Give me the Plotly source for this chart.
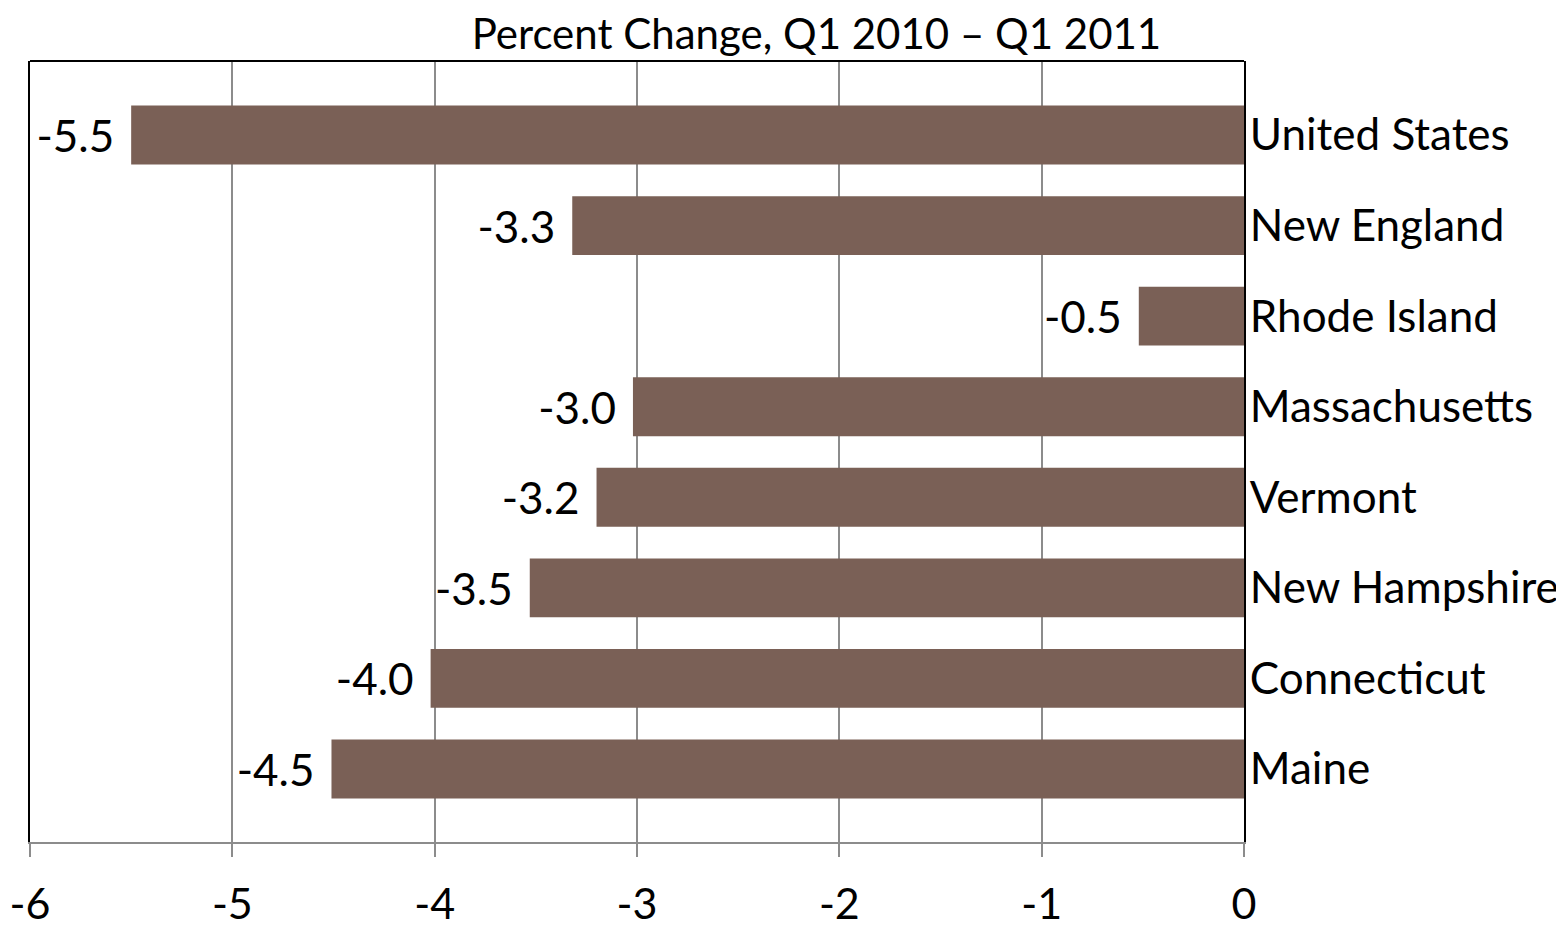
import plotly.graph_objects as go

categories = ["Maine", "Connecticut", "New Hampshire", "Vermont", "Massachusetts",
              "Rhode Island", "New England", "United States"]
values = [-4.51, -4.02, -3.53, -3.2, -3.02, -0.52, -3.32, -5.5]
x_ticks = [-6, -5, -4, -3, -2, -1, 0]
title_text = "Percent Change, Q1 2010 \u2013 Q1 2011"

FONT = "Lato"

fig = go.Figure(go.Bar(
    y=categories, x=values, orientation="h",
    marker=dict(color="#7A6056", line=dict(width=0)),
    width=0.65,
    text=[f"{v:.1f}\u00a0\u200a" for v in values],
    textposition="outside",
    textfont=dict(family=FONT, size=44, color="black"),
    cliponaxis=False,
))

fig.update_layout(
    width=1556, height=919,
    paper_bgcolor="white", plot_bgcolor="white",
    margin=dict(l=22, r=320, t=53, b=85),
    showlegend=False,
    title=dict(text=title_text, x=0.5196, xanchor="center", y=0.9717, yanchor="middle",
               yref="container", font=dict(family=FONT, size=42, color="black")),
    xaxis=dict(range=[-6, 0], tickvals=x_ticks, ticktext=[str(t) for t in x_ticks],
               automargin=False,
               showgrid=True, gridcolor="#8c8c8c", gridwidth=1.5,
               zeroline=False, showline=True, linecolor="#8c8c8c", linewidth=2,
               ticks="outside", ticklen=13, tickwidth=2, tickcolor="#8c8c8c",
               tickfont=dict(family=FONT, size=43, color="black"),
               ticklabelstandoff=10),
    yaxis=dict(categoryorder="array", categoryarray=categories,
               automargin=False,
               range=[-0.806, 7.817], side="right",
               showline=True, linecolor="black", linewidth=2, mirror=True,
               showgrid=False, ticks="",
               tickfont=dict(family=FONT, size=44, color="black"),
               ticklabelstandoff=-5),
    shapes=[dict(type="line", xref="paper", yref="paper", x0=0, x1=1, y0=1, y1=1,
                 line=dict(color="black", width=2))],
)

fig.write_html("out.html")
